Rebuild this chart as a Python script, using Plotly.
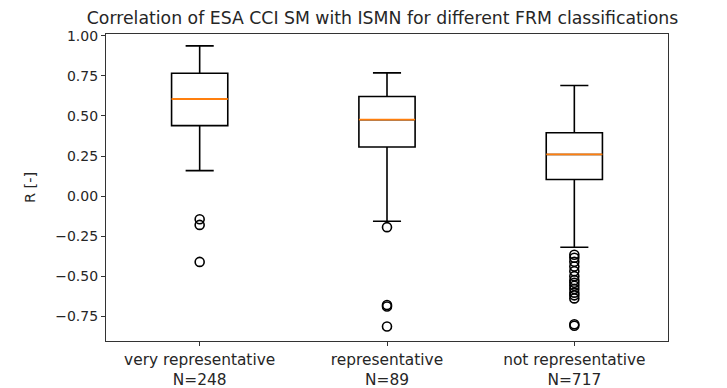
import plotly.graph_objects as go

categories = ["very representative", "representative", "not representative"]
counts = [248, 89, 717]
positions = [1, 2, 3]
q1 = [0.440, 0.306, 0.103]
median = [0.606, 0.477, 0.260]
q3 = [0.767, 0.622, 0.395]
lower_whisker = [0.159, -0.157, -0.320]
upper_whisker = [0.938, 0.769, 0.690]
outliers = [
    [-0.145, -0.180, -0.411],
    [-0.194, -0.680, -0.690, -0.814],
    [-0.366, -0.385, -0.410, -0.440, -0.469, -0.500, -0.525, -0.541,
     -0.560, -0.580, -0.603, -0.620, -0.639, -0.800, -0.810],
]
tick_labels = [f"{c}<br>N={n}" for c, n in zip(categories, counts)]
box_width = 0.3

FONT = "DejaVu Sans"
fig = go.Figure()

for i, p in enumerate(positions):
    fig.add_trace(go.Box(
        x=[p], q1=[q1[i]], median=[median[i]], q3=[q3[i]],
        lowerfence=[lower_whisker[i]], upperfence=[upper_whisker[i]],
        width=box_width, whiskerwidth=0.5,
        fillcolor="rgba(255,255,255,0)",
        line=dict(color="black", width=1.6),
        boxpoints=False, showlegend=False, hoverinfo="skip",
    ))
    # median line (orange)
    fig.add_trace(go.Scatter(
        x=[p - box_width / 2, p + box_width / 2], y=[median[i], median[i]],
        mode="lines", line=dict(color="#ff7f0e", width=1.8),
        showlegend=False, hoverinfo="skip",
    ))
    # outliers
    fig.add_trace(go.Scatter(
        x=[p] * len(outliers[i]), y=outliers[i], mode="markers",
        marker=dict(symbol="circle-open", size=9, color="black",
                    line=dict(width=1.6, color="black")),
        showlegend=False, hoverinfo="skip",
    ))

# page body has an 8px margin, so the figure is 8px smaller than the window
W, H = 719, 380
fig.update_layout(
    width=W, height=H,
    margin=dict(l=98, r=59, t=26, b=47, autoexpand=False),
    paper_bgcolor="white", plot_bgcolor="white",
    font=dict(family=FONT, size=14, color="#262626"),
    title=dict(text="Correlation of ESA CCI SM with ISMN for different FRM classifications",
               x=0.492, xanchor="center", xref="paper", y=1 - 9.6 / H, yanchor="middle",
               font=dict(family=FONT, size=17.3, color="#262626")),
)
fig.update_xaxes(
    range=[0.5, 3.5], tickmode="array", tickvals=positions, ticktext=tick_labels,
    showline=True, mirror=True, linecolor="#333", linewidth=1.2, automargin=False,
    ticks="outside", ticklen=4, tickcolor="#333", showgrid=False, zeroline=False,
    tickfont=dict(size=15.4),
)
fig.update_yaxes(
    range=[-0.905, 1.012], tickmode="array",
    tickvals=[-0.75, -0.5, -0.25, 0, 0.25, 0.5, 0.75, 1.0], tickformat=".2f",
    showline=True, mirror=True, linecolor="#333", linewidth=1.2, automargin=False,
    ticks="outside", ticklen=4, tickcolor="#333", showgrid=False, zeroline=False,
    title=dict(text="R [-]", standoff=16, font=dict(size=14.5)),
    tickfont=dict(size=14.0),
)

fig.write_html("out.html")
